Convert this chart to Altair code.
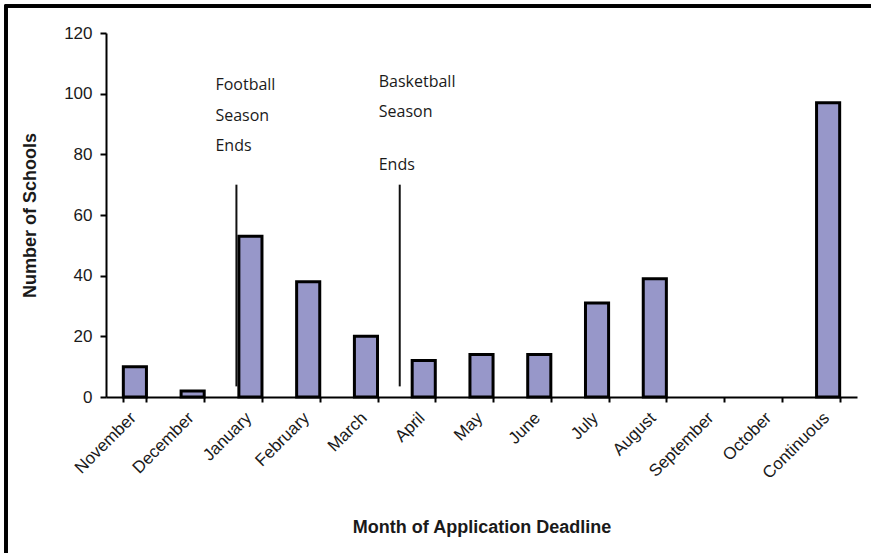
import altair as alt
import pandas as pd

# Application deadlines by month
months = ["November", "December", "January", "February", "March", "April",
          "May", "June", "July", "August", "September", "October", "Continuous"]
schools = [10, 2, 53, 38, 20, 12, 14, 14, 31, 39, 0, 0, 97]

y_ticks = [0, 20, 40, 60, 80, 100, 120]

# Season-end annotations: marker line month plus text lines
football_lines = ["Football", "Season", "Ends"]
football_levels = [103, 92.8, 82.6]
basketball_lines = ["Basketball", "Season", "Ends"]
basketball_levels = [103.8, 93.8, 76.5]
marker_top = 70
marker_bottom = 3.5

bars_df = pd.DataFrame({"month": months, "schools": schools})
foot_txt = pd.DataFrame({"month": "January", "label": football_lines, "level": football_levels})
bask_txt = pd.DataFrame({"month": "April", "label": basketball_lines, "level": basketball_levels})
foot_rule = pd.DataFrame({"month": ["January"], "top": [marker_top], "bottom": [marker_bottom]})
bask_rule = pd.DataFrame({"month": ["April"], "top": [marker_top], "bottom": [marker_bottom]})

FONT = "Liberation Sans"
W, H = 751, 364

x_scale = alt.Scale(domain=months, paddingInner=0.6, paddingOuter=0.3)
y_scale = alt.Scale(domain=[0, 120], nice=False)

x_axis = alt.Axis(
    title="Month of Application Deadline",
    labelAngle=-45, labelAlign="right", labelBaseline="middle",
    labelFont=FONT, labelFontSize=17, labelColor="#1a1a1a",
    labelPadding=13, labelOffset=-2,
    tickBand="extent", tickSize=5, tickWidth=2, tickColor="black",
    domainColor="black", domainWidth=2,
    titleFont=FONT, titleFontSize=18, titleFontWeight="bold", titleColor="#1a1a1a",
    titlePadding=37, grid=False,
)
y_axis = alt.Axis(
    title="Number of Schools", values=y_ticks,
    labelFont=FONT, labelFontSize=17, labelColor="#1a1a1a", labelPadding=8,
    tickSize=6, tickWidth=2, tickColor="black",
    domainColor="black", domainWidth=2,
    titleFont=FONT, titleFontSize=18, titleFontWeight="bold", titleColor="#1a1a1a",
    titlePadding=24, grid=False,
)

frame = alt.Chart(bars_df).mark_rect(
    fill=None, stroke="black", strokeWidth=2.5, clip=False
).encode(
    x=alt.value(-100), x2=alt.value(800), y=alt.value(-27), y2=alt.value(560)
)

bars = alt.Chart(bars_df).mark_bar(
    color="#9797C9", stroke="black", strokeWidth=3
).encode(
    x=alt.X("month:N", sort=months, scale=x_scale, axis=x_axis),
    y=alt.Y("schools:Q", scale=y_scale, axis=y_axis),
    strokeOpacity=alt.condition("datum.schools > 0", alt.value(1), alt.value(0)),
)

rule_style = dict(color="#111111", strokeWidth=2)
foot_mark = alt.Chart(foot_rule).mark_rule(xOffset=-14, **rule_style).encode(
    x=alt.X("month:N", sort=months, scale=x_scale),
    y="top:Q", y2="bottom:Q",
)
bask_mark = alt.Chart(bask_rule).mark_rule(xOffset=-24, **rule_style).encode(
    x=alt.X("month:N", sort=months, scale=x_scale),
    y="top:Q", y2="bottom:Q",
)

text_style = dict(align="left", baseline="middle", font="Open Sans", fontSize=16, color="#1a1a1a")
foot_text = alt.Chart(foot_txt).mark_text(dx=-35, **text_style).encode(
    x=alt.X("month:N", sort=months, scale=x_scale),
    y="level:Q", text="label:N",
)
bask_text = alt.Chart(bask_txt).mark_text(dx=-45, **text_style).encode(
    x=alt.X("month:N", sort=months, scale=x_scale),
    y="level:Q", text="label:N",
)

chart = alt.layer(frame, bars, foot_mark, bask_mark, foot_text, bask_text).properties(
    width=W, height=H,
    autosize=alt.AutoSizeParams(type="none"),
    padding={"left": 106, "top": 33, "right": 14, "bottom": 156},
    background="white",
).configure_view(stroke=None)

chart.save("out.html", embed_options={"renderer": "svg", "actions": False})
